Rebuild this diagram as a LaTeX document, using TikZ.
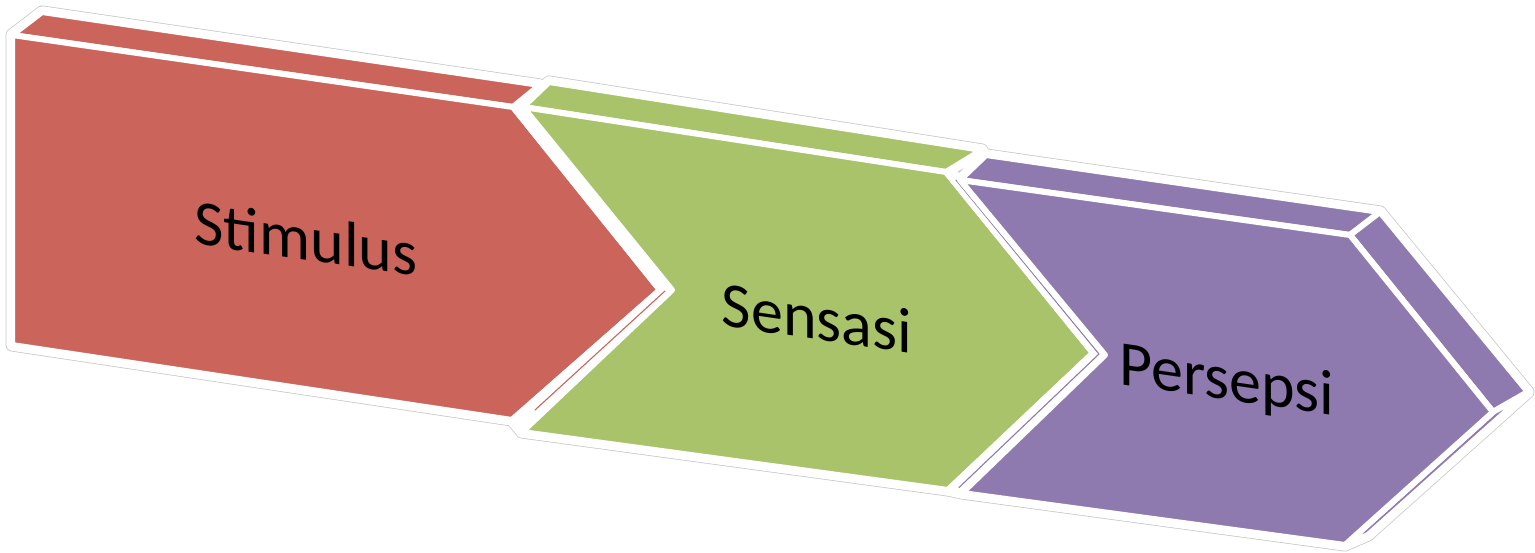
\documentclass[tikz,border=0pt]{standalone}
\usepackage{fontspec}
\setmainfont{Carlito}
\usepackage{xcolor}
\usetikzlibrary{calc}
\definecolor{stimred}{HTML}{CB655B}
\definecolor{sensgreen}{HTML}{A8C36A}
\definecolor{perspurple}{HTML}{8F7AAF}

\begin{document}
\begin{tikzpicture}[x=1pt, y=-1pt, line join=round]
    \tikzstyle{face}=[draw=white, line width=6pt]
    \tikzstyle{stim face}=[face, fill=stimred]
    \tikzstyle{sens face}=[face, fill=sensgreen]
    \tikzstyle{pers face}=[face, fill=perspurple]
    \tikzstyle{gap face}=[face, fill=white]
    \tikzstyle{halo}=[draw=black!22, line width=13pt]
    \tikzstyle{glow}=[draw=white, line width=11.5pt]
    \tikzstyle{edge line}=[line width=1.1pt, line cap=round]
    \tikzstyle{chevron text}=[font=\fontsize{64}{70}\selectfont, text=black, yslant=-0.145, inner sep=0pt]

    \useasboundingbox (0,0) rectangle (1535,553);

    % red chevron
    \coordinate (r1) at (12,35);
    \coordinate (r2) at (513,107);
    \coordinate (r3) at (660,290);
    \coordinate (r4) at (512,420);
    \coordinate (r5) at (12,345);
    \coordinate (rt1) at (42,12);
    \coordinate (rt2) at (540,85);
    % green chevron
    \coordinate (g1) at (523,107);
    \coordinate (g2) at (946,172);
    \coordinate (g3) at (1093,353);
    \coordinate (g4) at (948,490);
    \coordinate (g5) at (522,432);
    \coordinate (g6) at (672,290);
    \coordinate (gt1) at (549,82);
    \coordinate (gt2) at (982,150);
    % purple chevron
    \coordinate (p1) at (960,180);
    \coordinate (p2) at (1350,235);
    \coordinate (p3) at (1493,412);
    \coordinate (p4) at (1345,545);
    \coordinate (p5) at (962,493);
    \coordinate (p6) at (1105,355);
    \coordinate (pt1) at (986,155);
    \coordinate (pt2) at (1380,212);
    \coordinate (ps1) at (1528,392);
    \coordinate (ps2) at (1368,535);

    \path[save path=\silhouette]
        (r1) -- (rt1) -- (rt2) -- (r2) -- cycle
        (r1) -- (r2) -- (r3) -- (r4) -- (r5) -- cycle
        (r2) -- (r3) -- (r4) -- (g5) -- (g6) -- (g1) -- cycle
        (g1) -- (gt1) -- (gt2) -- (g2) -- cycle
        (g1) -- (g2) -- (g3) -- (g4) -- (g5) -- (g6) -- cycle
        (g2) -- (g3) -- (g4) -- (p5) -- (p6) -- (p1) -- cycle
        (p1) -- (pt1) -- (pt2) -- (p2) -- cycle
        (p2) -- (pt2) -- (ps1) -- (p3) -- cycle
        (p3) -- (ps1) -- (ps2) -- (p4) -- cycle
        (p1) -- (p2) -- (p3) -- (p4) -- (p5) -- (p6) -- cycle;
    \draw[halo, use path=\silhouette];
    \draw[glow, use path=\silhouette];

    \draw[stim face] (r1) -- (rt1) -- (rt2) -- (r2) -- cycle;
    \draw[stim face] (r1) -- (r2) -- (r3) -- (r4) -- (r5) -- cycle;
    \draw[gap face] (r2) -- (r3) -- (r4) -- (g5) -- (g6) -- (g1) -- cycle;
    \draw[edge line, stimred] ($(r4)!0.5!(g5)+(18,-16)$) -- ($(r3)!0.5!(g6)+(-1,1)$);

    \draw[sens face] (g1) -- (gt1) -- (gt2) -- (g2) -- cycle;
    \draw[sens face] (g1) -- (g2) -- (g3) -- (g4) -- (g5) -- (g6) -- cycle;
    \draw[gap face] (g2) -- (g3) -- (g4) -- (p5) -- (p6) -- (p1) -- cycle;
    \draw[edge line, perspurple] ($(p1)!0.5!(g2)+(3,4)$) -- ($(g3)!0.5!(p6)$) -- ($(g4)!0.5!(p5)+(4,-4)$);

    \draw[pers face] (p1) -- (pt1) -- (pt2) -- (p2) -- cycle;
    \draw[pers face] (p2) -- (pt2) -- (ps1) -- (p3) -- cycle;
    \draw[pers face] (p3) -- (ps1) -- (ps2) -- (p4) -- cycle;
    \draw[pers face] (p1) -- (p2) -- (p3) -- (p4) -- (p5) -- (p6) -- cycle;

    \node[chevron text] (stimulus) at (306,238) {Stimulus};
    \node[chevron text] (sensasi) at (817,318) {Sensasi};
    \node[chevron text] (persepsi) at (1227,383) {Persepsi};
\end{tikzpicture}
\end{document}
